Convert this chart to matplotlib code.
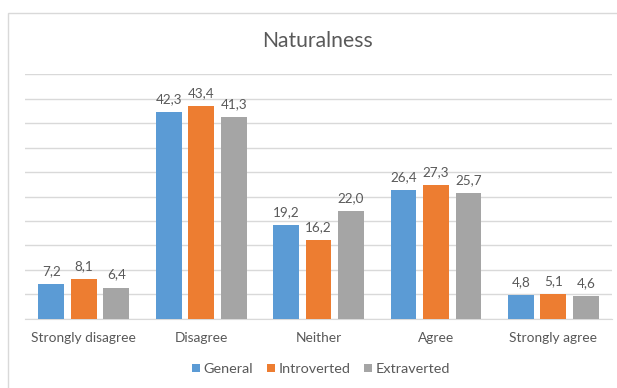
import numpy as np
import matplotlib.pyplot as plt
from matplotlib.patches import Rectangle

plt.rcParams['font.family'] = ['Lato', 'DejaVu Sans']

categories = ['Strongly disagree', 'Disagree', 'Neither', 'Agree', 'Strongly agree']
general = [7.2, 42.3, 19.2, 26.4, 4.8]
introverted = [8.1, 43.4, 16.2, 27.3, 5.1]
extraverted = [6.4, 41.3, 22.0, 25.7, 4.6]
series_names = ['General', 'Introverted', 'Extraverted']
colors = ['#5B9BD5', '#ED7D31', '#A5A5A5']
text_color = '#595959'
grid_color = '#D9D9D9'

fig = plt.figure(figsize=(6.17, 3.88), dpi=100)
ax = fig.add_axes([0.0405, 0.178, 0.9515, 0.631])

# light chart frame
fig.patches.append(Rectangle((8 / 617, -0.1), 1.1, 1 - 13 / 388 + 0.1,
                             transform=fig.transFigure, fill=False,
                             edgecolor=grid_color, linewidth=1.0))

x = np.arange(len(categories))
width = 0.22
step = 0.277
for i, (vals, name, c) in enumerate(zip([general, introverted, extraverted], series_names, colors)):
    bars = ax.bar(x + (i - 1) * step, vals, width, color=c, label=name, zorder=3)
    for b, v in zip(bars, vals):
        ax.annotate(f"{v:.1f}".replace('.', ','),
                    (b.get_x() + b.get_width() / 2, b.get_height()),
                    xytext=(0, 5), textcoords='offset points',
                    ha='center', va='bottom', fontsize=9.7, color=text_color)

ax.set_xlim(-0.5, len(categories) - 0.5)
ax.set_ylim(0, 50)
ax.set_yticks(np.arange(0, 51, 5))
ax.yaxis.grid(True, color=grid_color, linewidth=1.0, zorder=0)
ax.tick_params(axis='y', left=False, labelleft=False)
ax.tick_params(axis='x', bottom=False, pad=6, labelsize=9.9, colors=text_color)
ax.set_xticks(x)
ax.set_xticklabels(categories)
for side in ['top', 'right', 'left']:
    ax.spines[side].set_visible(False)
ax.spines['bottom'].set_color(grid_color)

fig.text(0.515, 1 - 47 / 388, 'Naturalness', ha='center', va='baseline',
         fontsize=15.2, color=text_color)

fig.legend(loc='center', bbox_to_anchor=(0.52, 1 - 369 / 388), ncol=3,
           frameon=False, fontsize=10.4, labelcolor=text_color,
           handlelength=0.55, handleheight=0.55, handletextpad=0.25,
           columnspacing=0.95)

fig.savefig('out.png', dpi=100)
